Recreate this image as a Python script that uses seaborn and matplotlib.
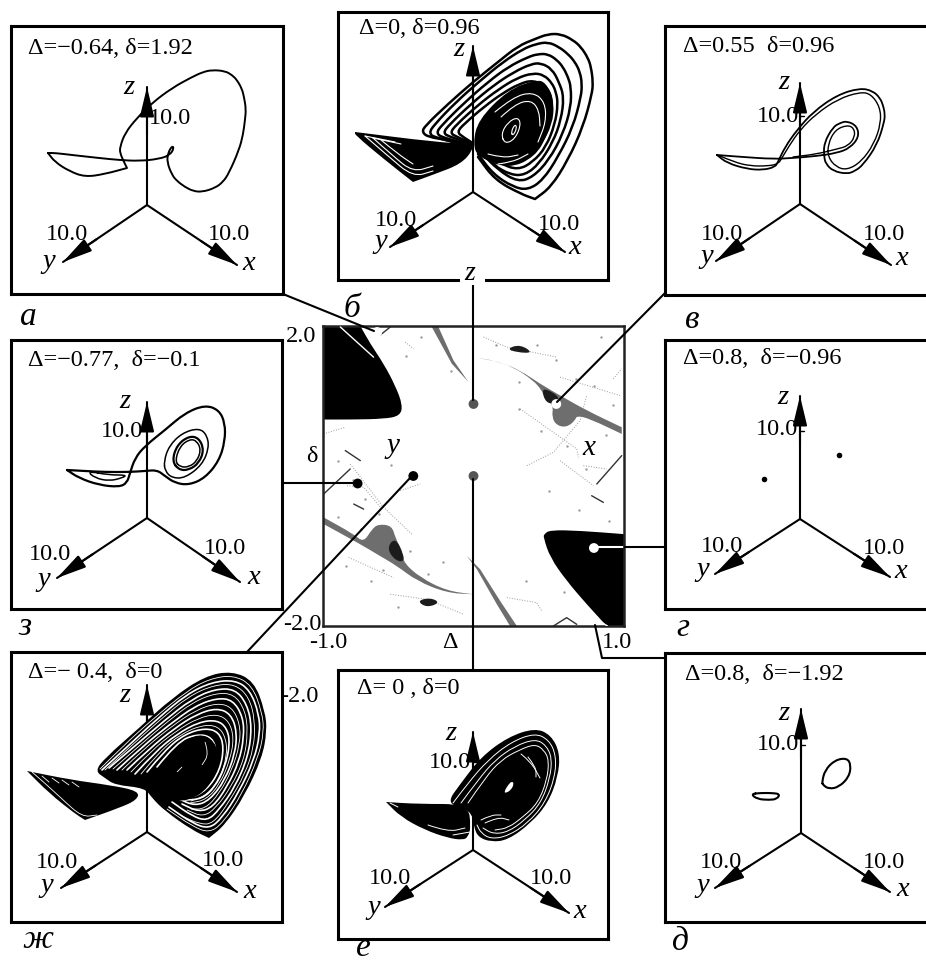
import seaborn as sns
import matplotlib.pyplot as plt
from matplotlib.path import Path
from matplotlib.patches import PathPatch

sns.set_theme(style="white")
plt.rcParams['font.family'] = ['Liberation Serif', 'DejaVu Sans']

traj_a = [(-99, 52), (-99, 52), (-92, 43), (-78, 34), (-62, 28), (-42, 31), (-20, 37), (-20, 37), (-23, 43), (-27, 52), (-27, 58), (-22, 72),
          (-10, 87), (5, 102), (25, 117), (45, 128), (56, 133), (65, 135), (78, 134), (85, 130), (90, 125), (95, 116), (97, 108),
          (99, 96), (98, 85), (96, 70), (92, 55), (82, 32), (76, 23), (68, 17), (55, 13), (46, 14), (38, 18), (30, 24), (25, 30),
          (20, 43), (21, 52), (25, 59), (27, 57), (23, 50), (12, 46), (-8, 44), (-28, 45), (-48, 47), (-75, 50), (-92, 52), (-99, 52), (-99, 52)]

traj_v1 = [(-83, 49), (-83, 49), (-73, 41), (-53, 35), (-37, 34), (-25, 37), (-22, 42), (-15, 57), (-3, 74), (13, 92), (37, 109), (60, 116),
           (73, 113), (80, 106), (83, 99), (85, 90), (84, 81), (77, 59), (63, 39), (55, 33), (47, 30), (33, 33), (26, 40), (24, 47),
           (24, 61), (33, 77), (40, 81), (47, 83), (57, 78), (59, 67), (50, 56), (37, 51), (17, 48), (-7, 46), (-27, 45), (-57, 47), (-83, 49), (-83, 49)]
traj_v2 = [(-80, 48), (-66, 42), (-50, 38), (-32, 38), (-22, 40), (-18, 46), (-11, 58), (0, 74), (16, 90), (38, 105), (60, 112),
           (71, 110), (80, 97), (81, 81), (74, 60), (61, 42), (47, 34), (36, 37), (28, 47), (28, 60), (35, 74), (47, 79),
           (54, 76), (55, 67), (48, 58), (37, 55), (17, 50), (-7, 47)]

traj_z1 = [(-80, 48), (-80, 48), (-68, 40), (-48, 33), (-28, 31), (-20, 35), (-17, 45), (-12, 60), (-2, 72), (18, 88), (38, 105), (58, 113),
           (72, 108), (78, 95), (78, 77), (72, 57), (58, 40), (42, 33), (28, 35), (18, 42), (10, 48), (-2, 47), (-18, 46),
           (-42, 46), (-62, 47), (-80, 48), (-80, 48)]
traj_z2 = [(17, 57), (22, 72), (35, 85), (52, 90), (60, 83), (62, 70), (55, 53), (38, 40), (25, 40), (18, 47), (17, 57)]
traj_z3 = [(25, 57), (30, 73), (42, 82), (52, 80), (57, 68), (52, 55), (42, 48), (32, 48), (25, 57)]
traj_z4 = [(28, 57), (33, 72), (43, 79), (50, 77), (54, 68), (50, 57), (42, 51), (33, 51), (28, 57)]
traj_z5 = [(-60, 47), (-52, 40), (-38, 37), (-25, 40), (-20, 43), (-38, 43), (-60, 47)]

traj_d1 = [(-50, 39), (-44, 34), (-32, 33), (-24, 34), (-21, 39), (-29, 40), (-41, 40), (-50, 39)]
traj_d2 = [(21, 51), (24, 63), (34, 73), (46, 75), (50, 68), (48, 56), (38, 46), (28, 44), (22, 48), (21, 51)]
points_g_u = [-36, 39]
points_g_v = [40, 64]

# panel b: right wing loops, core and left wing
traj_b1 = [(-2, 45), (-25, 52), (-45, 55), (-51, 60), (-48, 66), (-25, 88), (0, 110), (25, 130), (45, 146), (62, 153), (75, 158), (88, 158),
           (100, 152), (108, 145), (115, 134), (118, 125), (120, 110), (119, 98), (110, 65), (95, 32), (78, 5), (62, -7), (62, -7), (48, -2), (22, 12), (5, 35)]
traj_b2 = [(-2, 46), (-38, 54), (-44, 59), (-39, 67), (-17, 90), (8, 112), (30, 130), (50, 143), (63, 148), (75, 150), (86, 145), (95, 138),
           (102, 130), (107, 120), (109, 108), (108, 95), (100, 65), (85, 35), (70, 12), (55, 2), (40, 5), (20, 18), (5, 38)]
traj_b3 = [(-2, 47), (-30, 54), (-37, 59), (-31, 67), (-9, 89), (15, 110), (35, 125), (55, 135), (65, 138), (75, 138), (84, 132), (90, 125),
           (95, 115), (98, 105), (98, 85), (90, 58), (76, 32), (60, 15), (45, 10), (25, 22), (8, 40)]
traj_b3b = [(-2, 48), (-23, 55), (-30, 59), (-24, 67), (-2, 88), (21, 107), (41, 120), (58, 128), (68, 129), (79, 123), (86, 110),
            (91, 95), (88, 72), (80, 50), (66, 28), (52, 17), (38, 17), (20, 27), (8, 42)]
traj_b4 = [(-2, 49), (-16, 55), (-23, 59), (-17, 67), (5, 87), (26, 103), (44, 114), (60, 119), (71, 117), (79, 109), (83, 100), (85, 88),
           (82, 68), (73, 45), (60, 30), (45, 22), (28, 28), (10, 43)]
traj_b5 = [(-2, 50), (-10, 55), (-16, 60), (-9, 68), (12, 86), (30, 99), (46, 108), (60, 112), (75, 105), (80, 88), (78, 68), (68, 48),
           (55, 34), (42, 28), (25, 32), (10, 45)]
core_b = [(5, 72), (35, 102), (62, 112), (73, 110), (82, 88), (75, 58), (62, 35), (35, 23), (5, 35), (0, 48)]
wing_b = [(-118, 60), (-118, 60), (-38, 50), (-2, 48), (0, 42), (-12, 28), (-38, 18), (-60, 10), (-60, 10), (-88, 32), (-118, 57)]
white_b = [[(28, 58), (35, 70), (45, 75), (48, 67), (42, 53), (32, 48), (28, 58)],
           [(38, 60), (42, 68), (44, 64), (40, 56), (38, 60)],
           [(22, 80), (40, 95), (60, 100), (72, 90), (73, 70), (65, 50)],
           [(28, 75), (42, 88), (58, 92), (66, 82), (67, 66)],
           [(25, 28), (40, 30), (55, 38)],
           [(15, 38), (30, 34), (45, 37)],
           [(-108, 56), (-78, 50)],
           [(-108, 56), (-85, 36), (-60, 15), (-40, 21)],
           [(-100, 54), (-72, 48)],
           [(-100, 54), (-80, 36), (-60, 20), (-40, 26)],
           [(-92, 52), (-75, 38), (-60, 28)]]

# panel zh: filled wings with white bands cut in
wing_zh_right = [(-52, 61), (-42, 74), (-8, 104), (25, 134), (58, 156), (85, 161), (107, 151), (118, 121), (120, 101), (115, 74), (98, 37),
                 (78, 7), (62, -6), (62, -6), (45, 2), (18, 21), (5, 34), (-2, 44), (-32, 47), (-42, 54)]
wing_zh_left = [(-120, 61), (-120, 61), (-75, 52), (-38, 47), (-8, 41), (-10, 32), (-28, 24), (-62, 12), (-62, 12), (-73, 19), (-98, 39)]
core_zh = [(15, 61), (32, 87), (52, 99), (68, 91), (73, 71), (62, 44), (42, 31), (22, 32), (13, 44)]
white_zh = [[(-45, 62), (-20, 85), (10, 113), (40, 138), (65, 150), (88, 152), (103, 142), (112, 118), (113, 98), (107, 72), (92, 40), (75, 14), (62, 3), (45, 9), (22, 25)],
            [(-38, 64), (-12, 86), (18, 112), (45, 133), (68, 143), (88, 143), (100, 128), (105, 105), (101, 75), (88, 45), (72, 22), (60, 11), (45, 16), (25, 30)],
            [(-30, 62), (-5, 85), (22, 107), (48, 126), (70, 134), (86, 132), (96, 115), (97, 95), (92, 70), (80, 45), (66, 25), (52, 20), (35, 28)],
            [(-20, 62), (2, 83), (28, 104), (50, 118), (70, 124), (84, 118), (90, 100), (88, 78), (78, 52), (63, 32), (48, 26), (32, 33)],
            [(-12, 58), (8, 80), (30, 98), (52, 110), (70, 112), (80, 104), (83, 88), (78, 65), (68, 45), (55, 33), (38, 32)],
            [(0, 60), (18, 82), (38, 98), (58, 104), (72, 100), (77, 85), (73, 62), (60, 42), (42, 33), (22, 38)],
            [(10, 65), (30, 90), (50, 98), (65, 95), (70, 80), (65, 58)]]
white_zh_thin = [[(-47, 63), (-24, 86), (7, 114), (40, 141), (62, 153), (86, 157), (105, 147), (115, 120), (117, 100), (111, 74), (95, 38), (76, 9), (62, -1), (45, 6), (20, 23)],
                 [(-42, 62), (-16, 86), (14, 113), (42, 136), (67, 147), (88, 148), (102, 135), (108, 112), (107, 85), (98, 58), (82, 30), (66, 8), (52, 8), (35, 16)],
                 [(-34, 63), (-8, 86), (20, 110), (46, 130), (69, 139), (87, 138), (98, 122), (101, 100), (97, 72), (84, 45), (69, 24), (56, 15), (40, 22)],
                 [(-25, 62), (-2, 84), (25, 106), (49, 122), (70, 129), (85, 125), (93, 108), (93, 88), (85, 62), (72, 38), (58, 23), (44, 23)],
                 [(-16, 60), (5, 82), (29, 101), (51, 114), (70, 118), (82, 111), (87, 94), (83, 72), (73, 48), (59, 32), (43, 29)],
                 [(-6, 58), (13, 81), (34, 98), (55, 107), (71, 106), (79, 94), (80, 76), (73, 54), (60, 37), (44, 31)],
                 [(-115, 60), (-100, 47), (-85, 33), (-65, 15), (-50, 17)],
                 [(-105, 56), (-98, 50)], [(-95, 54), (-88, 49)], [(-85, 52), (-78, 47)], [(-75, 50), (-68, 45)]]
white_zh_core = [[(58, 90), (62, 78), (55, 67)], [(30, 60), (35, 65)]]

# panel e: nearly solid, thin rims
wing_e_right = [(-27, 46), (-12, 67), (8, 93), (35, 113), (62, 122), (78, 115), (87, 97), (85, 73), (75, 47), (58, 27), (35, 10), (18, 8),
                (5, 13), (1, 23), (-2, 40)]
wing_e_left = [(-87, 48), (-87, 48), (-55, 46), (-5, 46), (-2, 23), (-5, 13), (-10, 10), (-25, 12), (-48, 20), (-72, 33)]
blob_e = [(31, 58), (35, 65), (39, 69), (41, 66), (38, 60), (33, 57)]
white_e = [[(-20, 47), (-5, 67), (15, 90), (38, 108), (62, 117), (76, 110), (83, 95), (82, 73), (72, 47), (55, 27), (35, 14), (18, 11), (8, 17), (4, 25)],
           [(-12, 47), (5, 70), (22, 90), (42, 104), (62, 111), (73, 105), (79, 92), (77, 72), (68, 47), (52, 30), (35, 18), (20, 16), (10, 22)],
           [(-5, 47), (12, 72), (28, 90), (46, 100), (62, 106), (71, 100), (76, 90), (74, 70), (65, 47), (50, 33), (35, 22), (22, 20)],
           [(8, 30), (18, 35), (28, 35)], [(12, 27), (25, 33), (36, 30)],
           [(55, 93), (63, 83), (63, 73)], [(48, 96), (58, 88), (67, 72)],
           [(-20, 15), (-3, 18)], [(-45, 25), (-25, 18), (-8, 22)], [(-83, 47), (-75, 43)]]

# --- (Delta, delta) parameter map ---
lobe_upper = [(-1.0, 2.0), (-1.0, 2.0), (-0.752, 2.0), (-0.752, 2.0), (-0.686, 1.764), (-0.597, 1.497), (-0.52, 1.207), (-0.47, 0.94), (-0.49, 0.8), (-0.597, 0.762),
              (-0.796, 0.753), (-1.0, 0.753), (-1.0, 0.753)]
lobe_lower = [(0.469, -0.775), (0.509, -0.72), (0.708, -0.73), (1.0, -0.775), (1.0, -0.775), (1.0, -2.0), (1.0, -2.0), (0.885, -2.0), (0.885, -2.0), (0.752, -1.71), (0.619, -1.399),
              (0.509, -1.087), (0.465, -0.82)]
streak_upper = [(0.022, 1.577), (0.022, 1.577), (0.177, 1.519), (0.31, 1.408), (0.442, 1.229), (0.575, 1.074), (0.752, 0.873), (0.985, 0.65), (0.985, 0.65), (0.985, 0.561), (0.985, 0.561),
                (0.774, 0.762), (0.686, 0.806), (0.675, 0.739), (0.619, 0.65), (0.553, 0.673), (0.52, 0.784), (0.531, 0.94), (0.465, 1.074),
                (0.454, 1.14), (0.398, 1.274), (0.265, 1.452), (0.133, 1.541)]
streak_lower = [(-0.996, -0.552), (-0.996, -0.552), (-0.796, -0.775), (-0.73, -0.886), (-0.675, -0.708), (-0.631, -0.641), (-0.542, -0.664), (-0.52, -0.82),
                (-0.465, -1.042), (-0.465, -1.154), (-0.354, -1.354), (-0.177, -1.532), (0.0, -1.577), (0.0, -1.577), (-0.177, -1.559), (-0.376, -1.399),
                (-0.509, -1.198), (-0.642, -1.042), (-0.752, -0.909), (-0.996, -0.641), (-0.996, -0.641)]
wedge_top = [(-0.277, 1.987), (-0.233, 1.987), (-0.133, 1.541), (-0.033, 1.252), (-0.144, 1.497)]
wedge_bottom = [(-0.044, -1.065), (0.044, -1.243), (0.177, -1.666), (0.288, -2.0), (0.243, -2.0), (0.155, -1.71), (0.022, -1.243)]
dark_patches = [[(0.454, 1.14), (0.487, 1.16), (0.575, 1.05), (0.54, 0.96), (0.48, 0.98)],
                [(-0.575, -0.953), (-0.52, -0.82), (-0.465, -1.042), (-0.465, -1.154), (-0.531, -1.109)],
                [(0.221, 1.697), (0.31, 1.755), (0.398, 1.639), (0.288, 1.648)],
                [(-0.376, -1.666), (-0.288, -1.621), (-0.221, -1.688), (-0.31, -1.755)]]
lines_gray = [[(0.066, 1.853), (0.221, 1.719), (0.553, 1.586)],
              [(0.354, 0.138), (0.531, 0.316), (0.708, 0.739), (0.752, 1.073)],
              [(0.31, 0.895), (0.686, 0.361), (0.697, 0.249)],
              [(0.575, 1.318), (0.973, 1.073)],
              [(0.575, 0.205), (0.796, -0.129)],
              [(0.929, 1.296), (0.985, 1.43)],
              [(-0.553, -1.577), (-0.31, -1.644), (-0.066, -1.844)],
              [(-0.819, 0.16), (-0.597, -0.419), (-0.409, -0.775)],
              [(-0.841, -0.129), (-0.73, -0.151), (-0.608, -0.441)],
              [(-0.487, -0.196), (-0.354, -0.107)],
              [(-0.83, -1.087), (-0.531, -1.354)],
              [(0.221, -1.621), (0.42, -1.688), (0.454, -1.8)],
              [(-0.996, 0.561), (-0.852, 0.65)],
              [(-0.454, 1.786), (-0.398, 1.697)],
              [(0.73, 0.138), (0.885, 0.094)]]
lines_dark = [[(0.819, -0.107), (0.985, 0.272)],
              [(-0.996, -0.241), (-0.819, 0.094)],
              [(-0.852, 0.339), (-0.752, 0.205)],
              [(0.785, -0.263), (0.863, -0.352)],
              [(-0.796, -0.374), (-0.73, -0.441)],
              [(0.531, -2.0), (0.619, -1.889), (0.686, -1.978)],
              [(-0.608, 1.898), (-0.553, 1.987)]]
lobe_white = [[(-0.885, 1.987), (-0.664, 1.585)], [(0.65, -1.7), (0.89, -2.0)]]
speck_delta = [-0.9, -0.8, -0.72, -0.63, -0.55, -0.9, -0.75, -0.6, -0.42, -0.3, -0.2, -0.5, -0.68, -0.85, 0.3, 0.42, 0.55, 0.68, 0.8, 0.93,
               0.25, 0.45, 0.62, 0.75, 0.88, 0.3, 0.15, 0.5, 0.7, 0.9, -0.35, -0.45, -0.62, -0.15, 0.35, 0.6, 0.85]
speck_tau = [0.2, -0.05, -0.3, -0.5, 0.15, -0.55, -0.7, -1.25, -1.0, -1.3, -1.15, -1.75, -1.4, -1.2, 0.9, 1.75, 1.55, 1.3, 1.2, 0.95,
             1.7, 0.6, 0.4, 0.1, 0.55, 1.25, 1.75, -0.2, -0.45, -0.6, 1.85, 1.6, 1.9, 1.4, -1.4, -1.55, 1.85]
param_delta = [-0.64, 0, 0.55, 0.8, 0.8, 0, -0.4, -0.77]
param_tau = [1.92, 0.96, 0.96, -0.96, -1.92, 0, 0, -0.1]
param_tone = ['white', '#555555', 'white', 'white', 'white', '#555555', 'black', 'black']

LABEL_FS = 17.5

fig = plt.figure(figsize=(9.26, 9.66), dpi=100)


def curve(ax, pts, color='black', lw=1.5, **kw):
    sns.lineplot(x=[p[0] for p in pts], y=[p[1] for p in pts], sort=False, estimator=None, color=color,
                 linewidth=lw, ax=ax, legend=False, **kw)


def smooth_path(pts, closed=False):
    # read points act as control points of a quadratic path, so the loops do not look polygonal
    mid = lambda a, b: ((a[0] + b[0]) / 2, (a[1] + b[1]) / 2)
    if closed:
        verts = [mid(pts[-1], pts[0])]
        codes = [Path.MOVETO]
        for i, p in enumerate(pts):
            verts += [p, mid(p, pts[(i + 1) % len(pts)])]
            codes += [Path.CURVE3, Path.CURVE3]
        return Path(verts, codes)
    verts = [pts[0]]
    codes = [Path.MOVETO]
    for i in range(1, len(pts) - 1):
        verts += [pts[i], mid(pts[i], pts[i + 1])]
        codes += [Path.CURVE3, Path.CURVE3]
    verts.append(pts[-1])
    codes.append(Path.LINETO)
    return Path(verts, codes)


def trace(ax, pts, color='black', lw=1.5):
    closed = pts[0] == pts[-1] and pts[1] != pts[0]
    ax.add_patch(PathPatch(smooth_path(pts[:-1] if closed else pts, closed), fc='none', ec=color, lw=lw,
                           capstyle='round', joinstyle='round', zorder=3))


def solid(ax, pts, color='black'):
    ax.add_patch(PathPatch(smooth_path(pts, True), fc=color, ec='none', lw=0, zorder=2.5))


def plain(ax, pts, color='black'):
    ax.fill([p[0] for p in pts], [p[1] for p in pts], color=color, lw=0, zorder=2.5)


def panel(box, origin, tips, labels, z_tick=True):
    l, t, r, b = box
    ox, oy = origin
    ax = fig.add_axes([l / 926, 1 - b / 966, (r - l) / 926, (b - t) / 966])
    ax.set_facecolor('white')
    for tip in tips:
        curve(ax, [(0, 0), tip], lw=1.5)
        ax.annotate('', xy=tip, xytext=(tip[0] * 0.6, tip[1] * 0.6),
                    arrowprops=dict(arrowstyle='-|>,head_length=1.0,head_width=0.24', color='black', lw=1.5,
                                    mutation_scale=18, shrinkA=0, shrinkB=0))
    for (u, v, s, italic) in labels:
        ax.text(u, v, s, fontsize=LABEL_FS + (3 if italic else 0), style='italic' if italic else 'normal',
                ha='center', va='center', color='black')
    if z_tick:
        curve(ax, [(0, 88), (4, 88)], lw=1)
    ax.set_xlim(l - ox, r - ox)
    ax.set_ylim(oy - b, oy - t)
    ax.set(xlabel='', ylabel='', xticks=[], yticks=[])
    for s in ax.spines.values():
        s.set_visible(True)
        s.set_color('black')
        s.set_linewidth(2.2)
    ax.set_autoscale_on(False)
    return ax


ax_a = panel((11, 26, 283, 294), (147, 205), [(0, 118), (90, -60), (-84, -57)],
             [(-18, 117, 'z', True), (23, 86, '10.0', False), (-80, -30, '10.0', False), (-98, -57, 'y', True),
              (82, -30, '10.0', False), (102, -58, 'x', True)], z_tick=False)
ax_b = panel((338, 12, 608, 280), (473, 192), [(0, 146), (92, -60), (-83, -55)],
             [(-14, 142, 'z', True), (-77, -28, '10.0', False), (-92, -50, 'y', True), (86, -32, '10.0', False),
              (102, -56, 'x', True)], z_tick=False)
ax_v = panel((665, 26, 935, 295), (800, 204), [(0, 121), (91, -61), (-84, -57)],
             [(-16, 121, 'z', True), (-22, 87, '10.0', False), (-78, -31, '10.0', False), (-93, -53, 'y', True),
              (84, -31, '10.0', False), (102, -55, 'x', True)])
ax_z = panel((11, 340, 282, 609), (147, 518), [(0, 116), (93, -64), (-90, -60)],
             [(-22, 117, 'z', True), (-25, 87, '10.0', False), (-97, -37, '10.0', False), (-103, -62, 'y', True),
              (78, -30, '10.0', False), (107, -60, 'x', True)])
ax_g = panel((665, 340, 935, 609), (800, 519), [(0, 123), (90, -58), (-85, -55)],
             [(-17, 122, 'z', True), (-23, 90, '10.0', False), (-78, -27, '10.0', False), (-97, -50, 'y', True),
              (84, -29, '10.0', False), (101, -53, 'x', True)])
ax_zh = panel((11, 652, 282, 922), (147, 832), [(0, 147), (90, -60), (-86, -56)],
              [(-22, 137, 'z', True), (-90, -31, '10.0', False), (-100, -53, 'y', True), (76, -28, '10.0', False),
               (103, -60, 'x', True)], z_tick=False)
ax_e = panel((338, 670, 608, 939), (473, 850), [(0, 118), (96, -63), (-88, -57)],
             [(-22, 116, 'z', True), (-23, 88, '10.0', False), (-83, -29, '10.0', False), (-99, -58, 'y', True),
              (78, -29, '10.0', False), (107, -62, 'x', True)])
ax_d = panel((665, 653, 935, 922), (801, 833), [(0, 124), (89, -59), (-86, -55)],
             [(-17, 119, 'z', True), (-23, 89, '10.0', False), (-80, -29, '10.0', False), (-98, -53, 'y', True),
              (83, -29, '10.0', False), (102, -57, 'x', True)])

trace(ax_a, traj_a, lw=1.4)
trace(ax_v, traj_v1, lw=1.3)
trace(ax_v, traj_v2, lw=1.0)
for tr, w in [(traj_z1, 1.6), (traj_z2, 1.1), (traj_z3, 1.6), (traj_z4, 1.1), (traj_z5, 1.1)]:
    trace(ax_z, tr, lw=w)
trace(ax_d, traj_d1, lw=1.5)
trace(ax_d, traj_d2, lw=1.5)
sns.scatterplot(x=points_g_u, y=points_g_v, color='black', s=16, ax=ax_g, legend=False, linewidth=0)

for tr in [traj_b1, traj_b2, traj_b3, traj_b3b, traj_b4, traj_b5]:
    trace(ax_b, tr, lw=1.8)
solid(ax_b, core_b)
solid(ax_b, wing_b)
for w in white_b:
    trace(ax_b, w, color='white', lw=0.8)

solid(ax_zh, wing_zh_right)
solid(ax_zh, wing_zh_left)
for w in white_zh:
    trace(ax_zh, w, color='white', lw=1.2)
for w in white_zh_thin:
    trace(ax_zh, w, color='white', lw=0.6)
ax_zh.add_patch(PathPatch(smooth_path(core_zh, True), fc='black', ec='none', zorder=3.5))
for w in white_zh_core:
    ax_zh.add_patch(PathPatch(smooth_path(w), fc='none', ec='white', lw=0.6, zorder=3.6))

solid(ax_e, wing_e_right)
solid(ax_e, wing_e_left)
ax_e.add_patch(PathPatch(smooth_path(blob_e, True), fc='white', ec='none', zorder=3))
for w in white_e:
    trace(ax_e, w, color='white', lw=0.7)

# parameter map in the middle
ax_map = fig.add_axes([323 / 926, 1 - 626 / 966, 301 / 926, 300 / 966])
sns.scatterplot(x=speck_delta, y=speck_tau, color='#9a9a9a', s=3, ax=ax_map, legend=False, linewidth=0)
for ln in lines_gray:
    curve(ax_map, ln, color='#9a9a9a', lw=0.7, linestyle=':')
for ln in lines_dark:
    curve(ax_map, ln, color='#333333', lw=1.0)
for shape in (wedge_top, wedge_bottom):
    plain(ax_map, shape, color='#6e6e6e')
for shape in (streak_upper, streak_lower):
    solid(ax_map, shape, color='#6e6e6e')
for shape in dark_patches:
    solid(ax_map, shape, color='#1c1c1c')
solid(ax_map, lobe_upper)
solid(ax_map, lobe_lower)
for ln in lobe_white:
    curve(ax_map, ln, color='white', lw=1.0, zorder=4)
sns.scatterplot(x=param_delta, y=param_tau, c=param_tone, s=50, ax=ax_map, legend=False, linewidth=0, zorder=5)
ax_map.set_xlim(-1, 1)
ax_map.set_ylim(-2, 2)
ax_map.set(xlabel='', ylabel='', xticks=[], yticks=[])
for s in ax_map.spines.values():
    s.set_visible(True)
    s.set_color('#222222')
    s.set_linewidth(1.8)

# leaders, captions and letters sit on a pixel-scaled overlay
over = fig.add_axes([0, 0, 1, 1], zorder=10)
over.patch.set_alpha(0)
leaders = [([(283, 294), (374, 331)], 'black'), ([(473, 285), (473, 400)], 'black'), ([(665, 293), (557, 402)], 'black'),
           ([(598, 547), (624, 547)], 'white'), ([(624, 547), (665, 547)], 'black'),
           ([(595, 625), (602, 658), (665, 658)], 'black'), ([(473, 479), (473, 670)], 'black'),
           ([(410, 478), (247, 652)], 'black'), ([(282, 483), (354, 483)], 'black')]
for pts, col in leaders:
    curve(over, pts, color=col, lw=1.5)
plain(over, [(460, 276), (485, 276), (485, 285), (460, 285)], color='white')
captions = [(28, 48, 'Δ=−0.64, δ=1.92'), (359, 28, 'Δ=0, δ=0.96'), (683, 47, 'Δ=0.55  δ=0.96'), (28, 360, 'Δ=−0.77,  δ=−0.1'),
            (683, 358, 'Δ=0.8,  δ=−0.96'), (28, 672, 'Δ=− 0.4,  δ=0'), (357, 688, 'Δ= 0 , δ=0'), (685, 674, 'Δ=0.8,  δ=−1.92')]
for x, y, s in captions:
    over.text(x, y, s, fontsize=LABEL_FS, ha='left', va='center', color='black')
map_labels = [(301, 336, '2.0'), (312, 456, 'δ'), (302, 624, '-2.0'), (328, 643, '-1.0'), (450, 643, 'Δ'), (617, 643, '1.0'), (299, 697, '-2.0')]
for x, y, s in map_labels:
    over.text(x, y, s, fontsize=LABEL_FS, ha='center', va='center', color='black')
over.text(393, 446, 'y', fontsize=21, style='italic', ha='center', va='center', color='black')
over.text(589, 448, 'x', fontsize=21, style='italic', ha='center', va='center', color='black')
over.text(470, 274, 'z', fontsize=20, style='italic', ha='center', va='center', color='black')
letters = [(28, 317, 'а'), (352, 309, 'б'), (692, 320, 'в'), (683, 628, 'г'), (680, 942, 'д'), (363, 948, 'е'), (38, 940, 'ж'), (25, 627, 'з')]
for x, y, s in letters:
    over.text(x, y, s, fontsize=24, style='italic', ha='center', va='center', color='black')
over.set_xlim(0, 926)
over.set_ylim(966, 0)
over.axis('off')

fig.savefig('out.png', dpi=100, facecolor='white')
